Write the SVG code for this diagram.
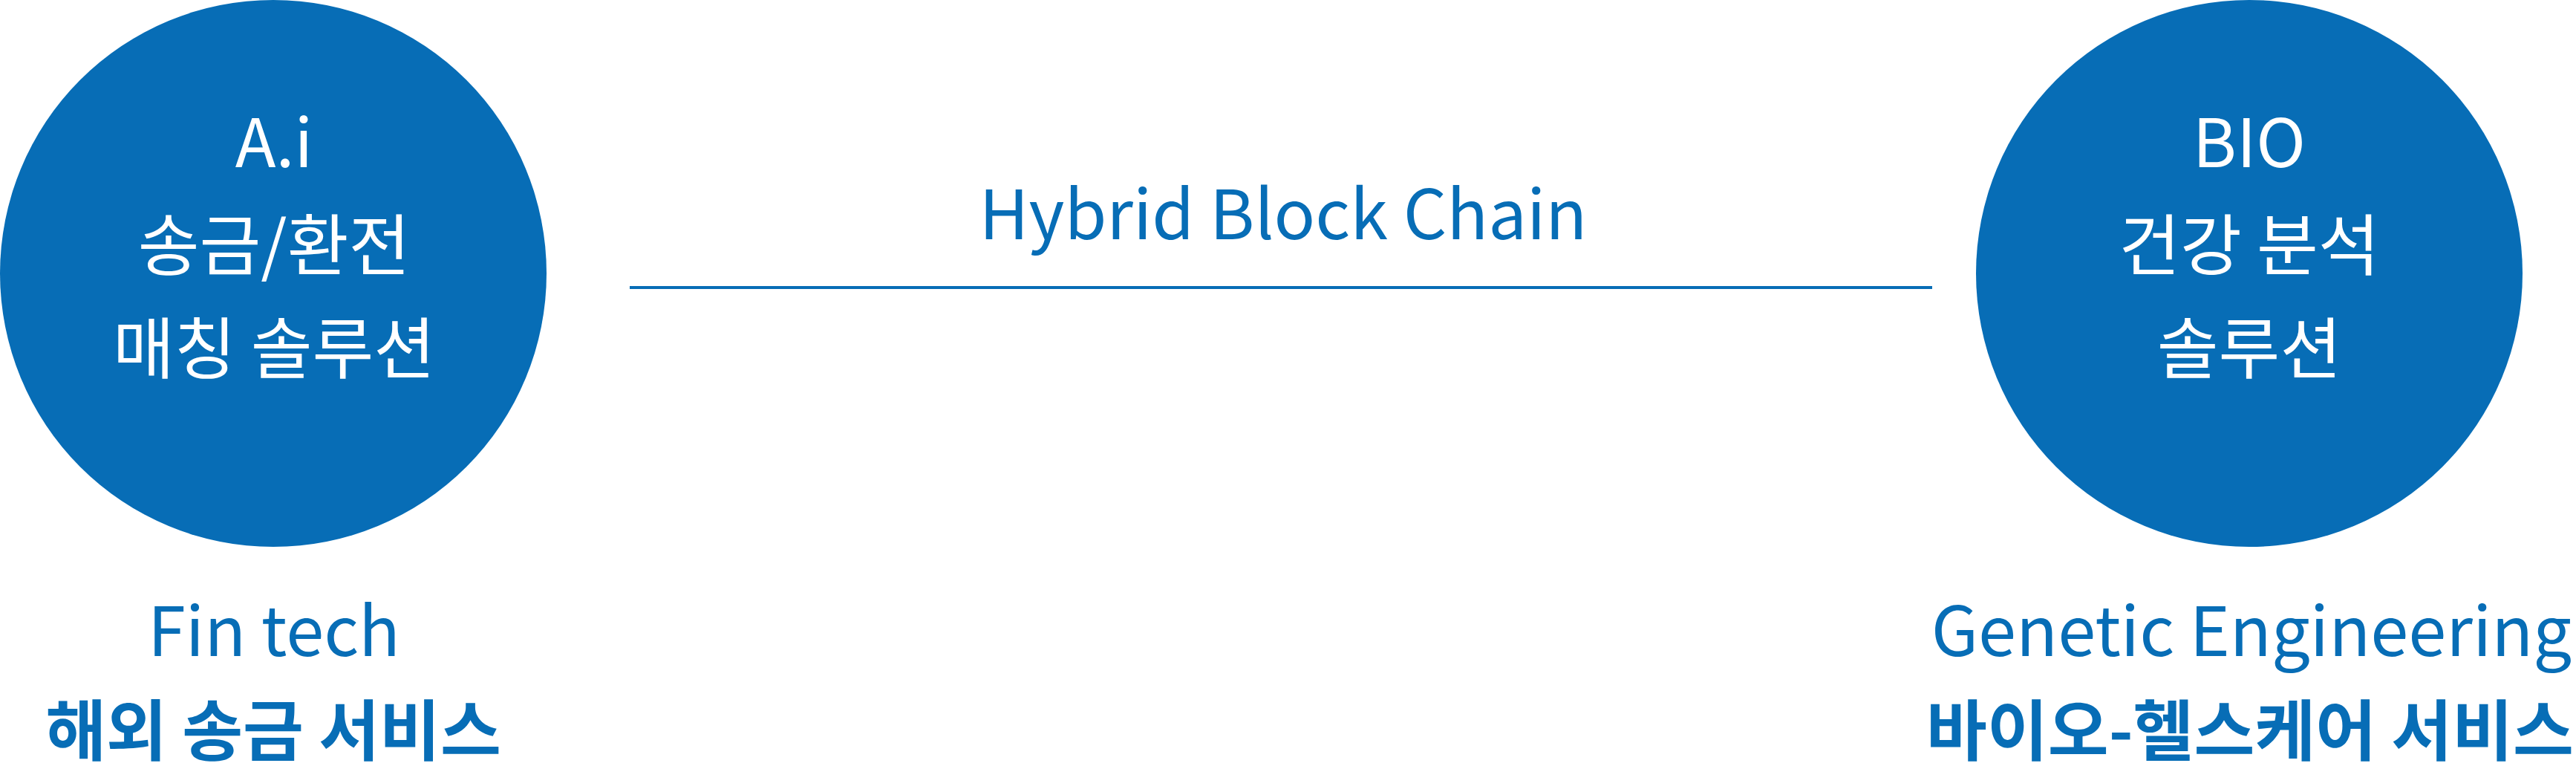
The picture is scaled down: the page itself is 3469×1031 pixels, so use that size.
<svg xmlns="http://www.w3.org/2000/svg" width="3469" height="1031" viewBox="0 0 3469 1031">
<style>
.circ{fill:#076db6}
.ct{font-family:"Noto Sans CJK KR","Noto Sans",sans-serif;font-size:90px;fill:#ffffff;text-anchor:middle}
.lt{font-family:"Noto Sans CJK KR","Noto Sans",sans-serif;font-size:92px;fill:#076db6;text-anchor:middle}
.bt{font-family:"Noto Sans CJK KR","Noto Sans",sans-serif;font-size:89px;font-weight:700;fill:#076db6;text-anchor:middle}
</style>
<rect width="3469" height="1031" fill="#ffffff"/>
<g id="connectors">
<line x1="848" y1="387" x2="2602" y2="387" stroke="#076db6" stroke-width="4"/>
<text class="lt" x="1728" y="322">Hybrid Block Chain</text>
</g>
<g id="node-fintech">
<circle class="circ" cx="368" cy="368" r="368"/>
<text class="ct" x="369" y="225">A.i</text>
<text class="ct" x="369" y="363">송금/환전</text>
<text class="ct" x="369" y="502">매칭 솔루션</text>
<text class="lt" x="369" y="883">Fin tech</text>
<text class="bt" x="368" y="1016">해외 송금 서비스</text>
</g>
<g id="node-bio">
<circle class="circ" cx="3029" cy="368" r="368"/>
<text class="ct" x="3029" y="225">BIO</text>
<text class="ct" x="3029" y="363">건강 분석</text>
<text class="ct" x="3029" y="502">솔루션</text>
<text class="lt" x="3032" y="883">Genetic Engineering</text>
<text class="bt" x="3030" y="1016">바이오-헬스케어 서비스</text>
</g>
</svg>
